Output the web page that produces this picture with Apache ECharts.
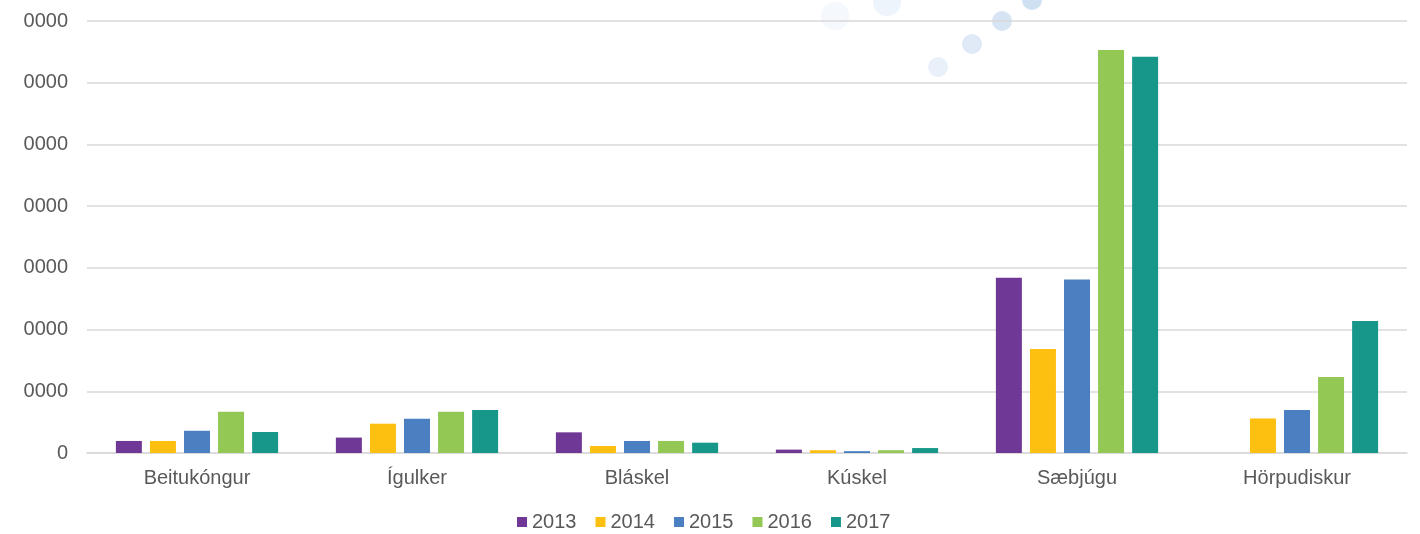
<!DOCTYPE html>
<html>
<head>
<meta charset="utf-8">
<script src="https://cdn.jsdelivr.net/npm/echarts@6/dist/echarts.min.js"></script>
<style>
html,body{margin:0;padding:0;background:#fff;}
#chart{width:1420px;height:534px;}
</style>
</head>
<body>
<div id="chart"></div>
<script>
const categories = ['Beitukóngur', 'Ígulker', 'Bláskel', 'Kúskel', 'Sæbjúgu', 'Hörpudiskur'];
const years = ['2013', '2014', '2015', '2016', '2017'];
const v2013 = [1950, 2500, 3350, 550, 28400, null];
const v2014 = [1950, 4750, 1130, 450, 16850, 5600];
const v2015 = [3600, 5550, 1950, 300, 28100, 6970];
const v2016 = [6700, 6700, 1950, 450, 65300, 12300];
const v2017 = [3400, 6970, 1670, 800, 64200, 21400];
const yTicks = [0, 10000, 20000, 30000, 40000, 50000, 60000, 70000];

const seriesValues = [v2013, v2014, v2015, v2016, v2017];
const colors = ['#703896', '#FDC010', '#4A80C2', '#92C853', '#17978A'];

const chart = echarts.init(document.getElementById('chart'));
const font = '"Liberation Sans", Arial, sans-serif';
chart.setOption({
  animation: false,
  backgroundColor: '#fff',
  color: colors,
  graphic: [
    { type: 'circle', shape: { cx: 835, cy: 16, r: 14 }, style: { fill: '#f5f8fc' }, z: -10 },
    { type: 'circle', shape: { cx: 887, cy: 2, r: 14 }, style: { fill: '#eef4fb' }, z: -10 },
    { type: 'circle', shape: { cx: 938, cy: 67, r: 10 }, style: { fill: '#e9f0f9' }, z: -10 },
    { type: 'circle', shape: { cx: 972, cy: 44, r: 10 }, style: { fill: '#dfeaf6' }, z: -10 },
    { type: 'circle', shape: { cx: 1002, cy: 21, r: 10 }, style: { fill: '#d6e4f4' }, z: -10 },
    { type: 'circle', shape: { cx: 1032, cy: 0, r: 10 }, style: { fill: '#cfe0f2' }, z: -10 }
  ],
  grid: { left: 87, right: 13, top: 21, bottom: 81, containLabel: false },
  legend: {
    data: years,
    left: 512,
    top: 507,
    itemWidth: 10,
    itemHeight: 10,
    itemGap: 19,
    icon: 'rect',
    textStyle: { fontFamily: font, fontSize: 20, color: '#595959' }
  },
  xAxis: {
    type: 'category',
    data: categories,
    axisLine: { show: true, lineStyle: { color: '#d9d9d9', width: 1.5 } },
    axisTick: { show: false },
    axisLabel: { fontFamily: font, fontSize: 20, color: '#595959', margin: 15 }
  },
  yAxis: {
    type: 'value',
    min: yTicks[0],
    max: yTicks[yTicks.length - 1],
    interval: 10000,
    axisLine: { show: false },
    axisTick: { show: false },
    splitLine: { lineStyle: { color: '#d9d9d9', width: 1.5 } },
    axisLabel: {
      fontFamily: font, fontSize: 20, color: '#595959', margin: 19,
      formatter: function (v) { return v === 0 ? '0' : String(v).slice(1); }
    }
  },
  series: years.map(function (y, i) {
    return {
      name: y,
      type: 'bar',
      data: seriesValues[i],
      barWidth: 26,
      barGap: '31%'
    };
  })
});
</script>
</body>
</html>
